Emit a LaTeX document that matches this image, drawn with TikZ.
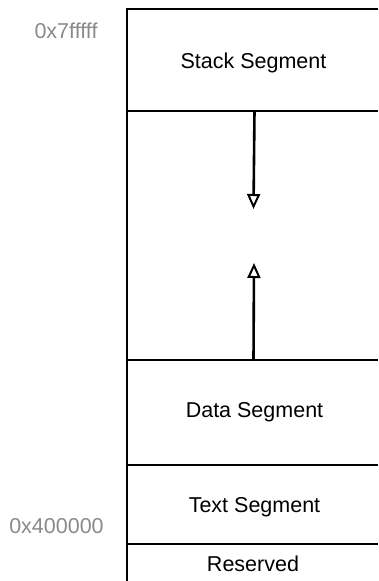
\documentclass[tikz,border=0pt]{standalone}
\usepackage{fontspec}
\setmainfont{Liberation Sans}
\usetikzlibrary{arrows.meta}
\definecolor{addrgrey}{HTML}{8A8A8A}
\begin{document}
\begin{tikzpicture}[x=1pt,y=-1pt,
  wall/.style={line width=2pt, black},
  growth/.style={line width=2.6pt, -{Triangle[open, length=15pt, width=13pt, line width=2pt]}},
  seglabel/.style={font=\fontsize{21.5}{24}\selectfont, inner sep=0pt},
  addr/.style={font=\fontsize{21.5}{24}\selectfont, text=addrgrey, inner sep=0pt}]
  \useasboundingbox (0,0) rectangle (378,581);
  % memory column
  \draw[wall, line join=miter] (378,8.5) -- (127,8.5) -- (127,581);
  \draw[wall] (127,111) -- (378,111);
  \draw[wall] (127,360) -- (378,360);
  \draw[wall] (127,465) -- (378,465);
  \draw[wall] (127,544) -- (378,544);
  % segment names
  \node[seglabel] (stack) at (253.5,62.5) {Stack Segment};
  \node[seglabel] (data) at (254.5,412.5) {Data Segment};
  \node[seglabel] (text) at (254.5,507.5) {Text Segment};
  \node[seglabel] (res) at (253,563.5) {Reserved};
  % addresses
  \node[addr] (hi) at (66,31) {0x7fffff};
  \node[addr] (lo) at (56.5,526) {0x400000};
  % stack and heap growth
  \coordinate (stacktop) at (254.5,111);
  \coordinate (stacktip) at (253.5,209);
  \coordinate (heapbase) at (253.5,360);
  \coordinate (heaptip) at (254,263);
  \draw[growth] (stacktop) -- (stacktip);
  \draw[growth] (heapbase) -- (heaptip);
\end{tikzpicture}
\end{document}
